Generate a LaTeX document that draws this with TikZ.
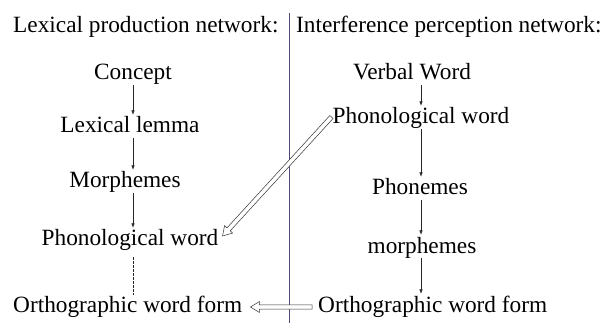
\documentclass[tikz,border=0pt]{standalone}
\usepackage{fontspec}
\setmainfont{Liberation Serif}
\usetikzlibrary{calc,arrows.meta}
\newcommand{\hollowarr}[2]{%
  \filldraw[hollow]
    ($(#1)!2.2pt!90:(#2)$) --
    ($($(#2)!9pt!(#1)$)!2.2pt!90:(#2)$) --
    ($($(#2)!9pt!(#1)$)!5.5pt!90:(#2)$) --
    (#2) --
    ($($(#2)!9pt!(#1)$)!5.5pt!-90:(#2)$) --
    ($($(#2)!9pt!(#1)$)!2.2pt!-90:(#2)$) --
    ($(#1)!2.2pt!-90:(#2)$) -- cycle;}
\begin{document}
\begin{tikzpicture}[x=1pt,y=-1pt,
  lbl/.style={inner sep=0pt, anchor=base, font=\fontsize{23.3}{27}\selectfont,
              text height=16pt, text depth=5pt},
  conn/.style={draw=black!85, line width=0.6pt, shorten >=2pt,
               -{Latex[length=4.5pt,width=3.5pt]}},
  dashconn/.style={draw=black!85, line width=0.6pt, dashed, dash pattern=on 2.5pt off 1.5pt},
  hollow/.style={draw=black!80, fill=white, line width=0.5pt, line join=miter},
  divider/.style={draw=black!60!blue!40!gray, line width=0.8pt}]
\useasboundingbox (0,0) rectangle (613,323);
% headers
\node[lbl, anchor=base west] (hdrL) at (13,33) {Lexical production network:};
\node[lbl, anchor=base west] (hdrR) at (296,33) {Interference perception network:};
% divider
\coordinate (divT) at (289,13);
\coordinate (divB) at (289,323);
\draw[divider] (divT) -- (divB);
% left column
\node[lbl] (concept) at (133,80) {Concept};
\node[lbl] (lemma) at (130,133) {Lexical lemma};
\node[lbl] (morphL) at (125,188) {Morphemes};
\node[lbl] (phonL) at (130,246) {Phonological word};
\node[lbl, anchor=base west] (orthL) at (13,312) {Orthographic word form};
% right column
\node[lbl] (verbal) at (412,80) {Verbal Word};
\node[lbl] (phonR) at (421,124) {Phonological word};
\node[lbl] (phonemes) at (420,195) {Phonemes};
\node[lbl] (morphR) at (422,253) {morphemes};
\node[lbl, anchor=base west] (orthR) at (318,312) {Orthographic word form};
% left arrows
\draw[conn] (concept.south) -- (concept.south |- lemma.north);
\draw[conn] (concept.south |- lemma.south) -- (concept.south |- morphL.north);
\draw[conn] (concept.south |- morphL.south) -- (concept.south |- phonL.north);
\draw[dashconn, shorten <=6pt, shorten >=1pt] (concept.south |- phonL.south) -- (concept.south |- orthL.north);
% right arrows
\draw[conn] (phonR.north |- verbal.south) -- (phonR.north);
\draw[conn] (phonR.south) -- (phonR.south |- phonemes.north);
\draw[conn] (phonR.south |- phonemes.south) -- (phonR.south |- morphR.north);
\draw[conn] (phonR.south |- morphR.south) -- (phonR.south |- orthR.north);
% hollow arrows
\coordinate (dA) at ($(phonR.base west)+(-1,-7)$);
\coordinate (dB) at ($(phonL.base east)+(4,-10)$);
\hollowarr{dA}{dB}
\coordinate (hA) at ($(orthR.base west)+(-6,-5)$);
\coordinate (hB) at ($(orthL.base east)+(8,-5)$);
\hollowarr{hA}{hB}
\end{tikzpicture}
\end{document}
